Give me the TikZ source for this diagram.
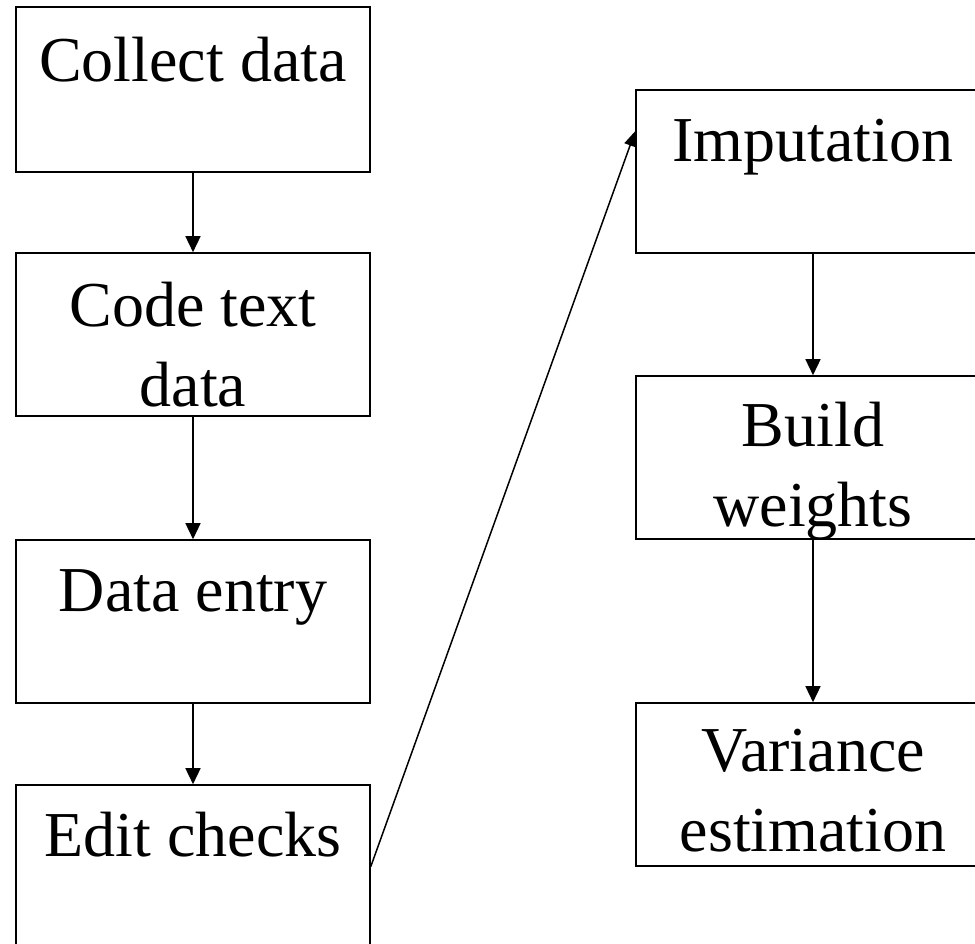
\documentclass[tikz,border=0pt]{standalone}
\usepackage{fontspec}
\setmainfont{Liberation Serif}
\usetikzlibrary{arrows.meta}
\begin{document}
\begin{tikzpicture}[x=1pt,y=-1pt,
  box/.style={draw=black, line width=1.6pt, rectangle, inner sep=0pt, minimum width=354pt},
  txt/.style={font=\fontsize{64}{80}\selectfont, align=center, inner sep=0pt, anchor=base},
  conn/.style={line width=1.5pt, -{Triangle[length=16pt,width=15pt]}},
  diag/.style={line width=1.5pt, -{Triangle[length=15pt,width=12pt]}}]
\useasboundingbox (0,0) rectangle (975,944);
\clip (0,0) rectangle (975,944);
% left column
\node[box, minimum height=165pt] (L1) at (193,89.5) {};
\node[box, minimum height=163pt] (L2) at (193,334.5) {};
\node[box, minimum height=163pt] (L3) at (193,621.5) {};
\node[box, minimum height=163pt] (L4) at (193,866.5) {};
% right column
\node[box, minimum height=163pt] (R1) at (813,171.5) {};
\node[box, minimum height=163pt] (R2) at (813,457.5) {};
\node[box, minimum height=163pt] (R3) at (813,784.5) {};
% texts (base anchor of multi-line text is its last line)
\node[txt] (T1) at ([yshift=-75pt]L1.north) {Collect data};
\node[txt] (T2) at ([yshift=-154pt]L2.north) {Code text\\data};
\node[txt] (T3) at ([yshift=-72pt]L3.north) {Data entry};
\node[txt] (T4) at ([yshift=-72pt]L4.north) {Edit checks};
\node[txt] (T5) at ([yshift=-72pt]R1.north) {Imputation};
\node[txt] (T6) at ([yshift=-151pt]R2.north) {Build\\weights};
\node[txt] (T7) at ([yshift=-149pt]R3.north) {Variance\\estimation};
% connectors
\draw[conn] (L1.south) -- (L2.north);
\draw[conn] (L2.south) -- (L3.north);
\draw[conn] (L3.south) -- (L4.north);
\draw[conn] (R1.south) -- (R2.north);
\draw[conn] (R2.south) -- (R3.north);
\coordinate (dtip) at ([yshift=-42pt]R1.north west);
\draw[diag] (L4.east) -- (dtip);
\end{tikzpicture}
\end{document}
